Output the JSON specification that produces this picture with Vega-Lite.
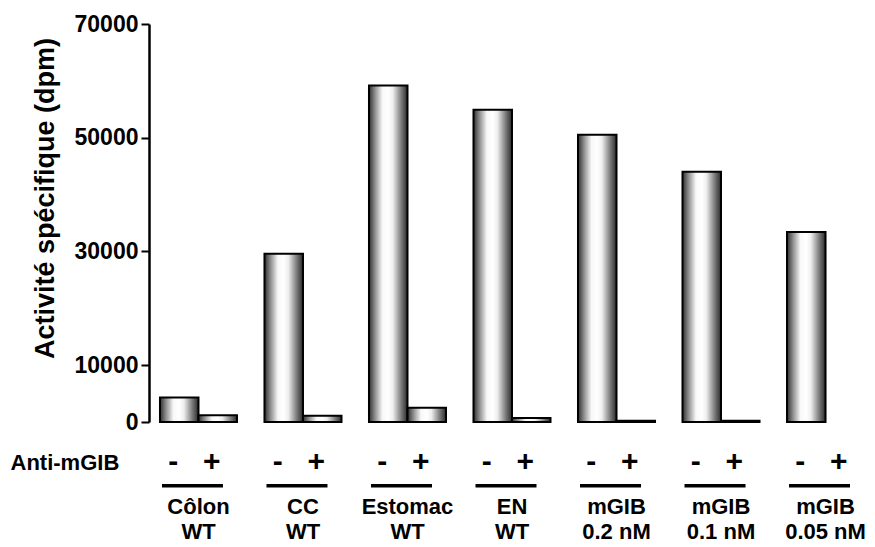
{
  "$schema": "https://vega.github.io/schema/vega-lite/v6.json",
  "width": 726,
  "height": 398,
  "autosize": "none",
  "padding": {"left": 149, "top": 24, "right": 0, "bottom": 125},
  "background": "white",
  "config": {
    "view": {"stroke": null},
    "font": "Liberation Sans",
    "axisY": {
      "labelFontSize": 23,
      "labelFontWeight": "bold",
      "labelColor": "black",
      "labelPadding": 3,
      "tickSize": 8,
      "tickWidth": 2,
      "tickColor": "black",
      "domainColor": "black",
      "domainWidth": 2.5,
      "grid": false,
      "titleFontSize": 27,
      "titleFontWeight": "bold",
      "titleColor": "black"
    }
  },
  "data": {
    "values": [
      {"group": "Côlon|WT", "treatment": "-", "value": 4300},
      {"group": "Côlon|WT", "treatment": "+", "value": 1200},
      {"group": "CC|WT", "treatment": "-", "value": 29600},
      {"group": "CC|WT", "treatment": "+", "value": 1100},
      {"group": "Estomac|WT", "treatment": "-", "value": 59200},
      {"group": "Estomac|WT", "treatment": "+", "value": 2500},
      {"group": "EN|WT", "treatment": "-", "value": 54900},
      {"group": "EN|WT", "treatment": "+", "value": 700},
      {"group": "mGIB|0.2 nM", "treatment": "-", "value": 50500},
      {"group": "mGIB|0.2 nM", "treatment": "+", "value": 200},
      {"group": "mGIB|0.1 nM", "treatment": "-", "value": 44000},
      {"group": "mGIB|0.1 nM", "treatment": "+", "value": 200},
      {"group": "mGIB|0.05 nM", "treatment": "-", "value": 33400},
      {"group": "mGIB|0.05 nM", "treatment": "+", "value": null}
    ]
  },
  "encoding": {
    "x": {
      "field": "group",
      "type": "nominal",
      "sort": null,
      "scale": {"paddingInner": 0.263, "paddingOuter": 0.105},
      "axis": {
        "labelExpr": "split(datum.label, '|')",
        "labelAngle": 0,
        "labelFontSize": 22,
        "labelFontWeight": "bold",
        "labelColor": "black",
        "labelLineHeight": 25,
        "labelPadding": 74,
        "ticks": false,
        "domain": false,
        "title": "Anti-mGIB",
        "titleFontSize": 22,
        "titleFontWeight": "bold",
        "titleColor": "black",
        "titleAnchor": "start",
        "titleAlign": "left",
        "titleBaseline": "middle",
        "titleX": -139,
        "titleY": 40
      }
    }
  },
  "layer": [
    {
      "mark": {
        "type": "bar",
        "stroke": "black",
        "strokeWidth": 2,
        "fill": {
          "gradient": "linear",
          "x1": 0, "x2": 1, "y1": 0, "y2": 0,
          "stops": [
            {"offset": 0, "color": "#2e2e2e"},
            {"offset": 0.15, "color": "#8a8a8a"},
            {"offset": 0.35, "color": "#f8f8f8"},
            {"offset": 0.5, "color": "#ffffff"},
            {"offset": 0.62, "color": "#eeeeee"},
            {"offset": 0.85, "color": "#747474"},
            {"offset": 1, "color": "#2a2a2a"}
          ]
        }
      },
      "encoding": {
        "xOffset": {"field": "treatment", "type": "nominal", "sort": ["-", "+"], "scale": {"paddingInner": 0, "paddingOuter": 0}},
        "y": {
          "field": "value",
          "type": "quantitative",
          "scale": {"domain": [0, 70000], "nice": false},
          "axis": {
            "values": [0, 10000, 30000, 50000, 70000],
            "format": "d",
            "title": "Activité spécifique (dpm)",
            "titleAngle": 270,
            "titleAlign": "center",
            "titleBaseline": "middle",
            "titleX": -104,
            "titleY": 174
          }
        }
      }
    },
    {
      "mark": {"type": "text", "fontSize": 30, "fontWeight": "bold", "color": "black", "dx": -6, "baseline": "middle"},
      "encoding": {
        "xOffset": {"field": "treatment", "type": "nominal", "sort": ["-", "+"], "scale": {"paddingInner": 0, "paddingOuter": 0}},
        "y": {"datum": -7000, "type": "quantitative"},
        "text": {"field": "treatment"}
      }
    },
    {
      "transform": [{"filter": "datum.treatment == '-'"}],
      "mark": {"type": "tick", "color": "black", "opacity": 1, "size": 61, "thickness": 3.5, "orient": "horizontal", "xOffset": -6},
      "encoding": {
        "y": {"datum": -11200, "type": "quantitative"}
      }
    }
  ]
}
